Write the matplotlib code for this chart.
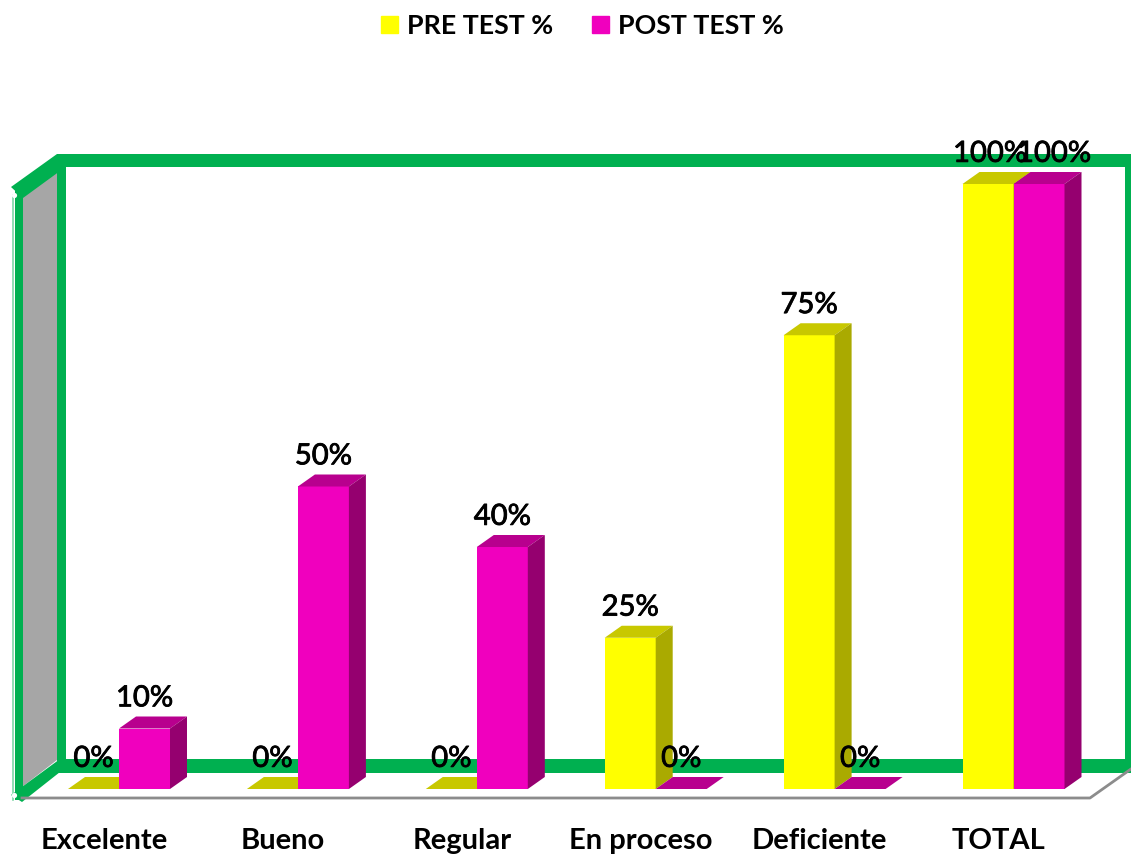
import matplotlib
matplotlib.use("Agg")
import matplotlib.pyplot as plt
import matplotlib.patheffects as pe
from matplotlib.patches import Patch

plt.rcParams['font.family'] = ['Lato', 'DejaVu Sans']

categorias = ["Excelente", "Bueno", "Regular", "En proceso", "Deficiente", "TOTAL"]
pre_test = [0, 0, 0, 25, 75, 100]
post_test = [10, 50, 40, 0, 0, 100]

VERDE = "#00B050"
AMARILLO = ("#FFFF00", "#C8C800", "#AAAA00")
MAGENTA = ("#F000BE", "#B8008E", "#95006F")

W, H = 1131, 855
fig = plt.figure(figsize=(W / 100, H / 100), dpi=100)

# fondo: marco verde en pixeles de la imagen
fondo = fig.add_axes([0, 0, 1, 1])
fondo.set_xlim(0, W)
fondo.set_ylim(H, 0)
fondo.axis("off")

fondo.fill([22, 57, 57, 22], [196, 170, 760, 787], color="#A6A6A6", lw=0)
fondo.plot([13, 13], [195, 800], color="#7FD7A7", lw=1.2)
fondo.plot([22, 1090, 1131], [798, 798, 769], color="#8C8C8C", lw=2)
fondo.fill([57, W, W, 57], [154, 154, 167, 167], color=VERDE, lw=0)
fondo.fill([57, W, W, 57], [759, 759, 773, 773], color=VERDE, lw=0)
fondo.fill([57, 66, 66, 57], [154, 154, 773, 773], color=VERDE, lw=0)
fondo.fill([1125, W, W, 1125], [154, 154, 773, 773], color=VERDE, lw=0)
fondo.fill([15, 23, 23, 15], [190, 190, 800, 800], color=VERDE, lw=0)
fondo.fill([11, 57, 60, 23], [187, 154, 171, 198], color=VERDE, lw=0)
fondo.fill([11, 60, 60, 22], [795, 759, 772, 802], color=VERDE, lw=0)
fondo.scatter([14, 14], [195, 795], s=14, color="white", zorder=5, lw=0)

# barras: x en categorias, y en porcentaje
ax = fig.add_axes([0, 0, 1, 1], facecolor="none")
PX_X = 178.9
PX_Y = 6.05
ax.set_xlim(-119 / PX_X, (W - 119) / PX_X)
ax.set_ylim(-(H - 789) / PX_Y, 789 / PX_Y)
ax.axis("off")

ancho = 51 / PX_X
dx = 17 / PX_X
dy = 12 / PX_Y
trazo = [pe.withStroke(linewidth=0.6, foreground="black")]


def barra3d(x0, valor, colores, corrimiento=0):
    ax.bar(x0, valor, width=ancho, align="edge", color=colores[0], lw=0, zorder=3)
    x1 = x0 + ancho
    ax.fill([x0, x1, x1 + dx, x0 + dx], [valor, valor, valor + dy, valor + dy],
            color=colores[1], lw=0, zorder=3)
    if valor > 0:
        ax.fill([x1, x1 + dx, x1 + dx, x1], [0, dy, valor + dy, valor],
                color=colores[2], lw=0, zorder=3)
    ax.text(x0 + ancho / 2 + corrimiento / PX_X, valor + dy + 3, f"{valor}%",
            ha="center", va="center", fontsize=21, color="black", zorder=6, path_effects=trazo)


for i, nombre in enumerate(categorias):
    # en TOTAL las dos etiquetas se separan para no taparse del todo
    es_total = nombre == "TOTAL"
    barra3d(i - ancho, pre_test[i], AMARILLO, 2 if es_total else 0)
    barra3d(i, post_test[i], MAGENTA, 15 if es_total else 0)
    ax.text(i - 15 / PX_X, -8.6, nombre, ha="center", va="center",
            fontsize=21, fontweight="bold", color="black")

handles = [Patch(color=AMARILLO[0], label="PRE TEST %"),
           Patch(color=MAGENTA[0], label="POST TEST %")]
fig.legend(handles=handles, loc="center", bbox_to_anchor=(582.5 / W, 1 - 26 / H), ncol=2,
           frameon=False, prop={"size": 19.3, "weight": "bold"},
           handlelength=0.63, handleheight=0.63, handletextpad=0.33, columnspacing=1.45)

fig.savefig("out.png", dpi=100)
